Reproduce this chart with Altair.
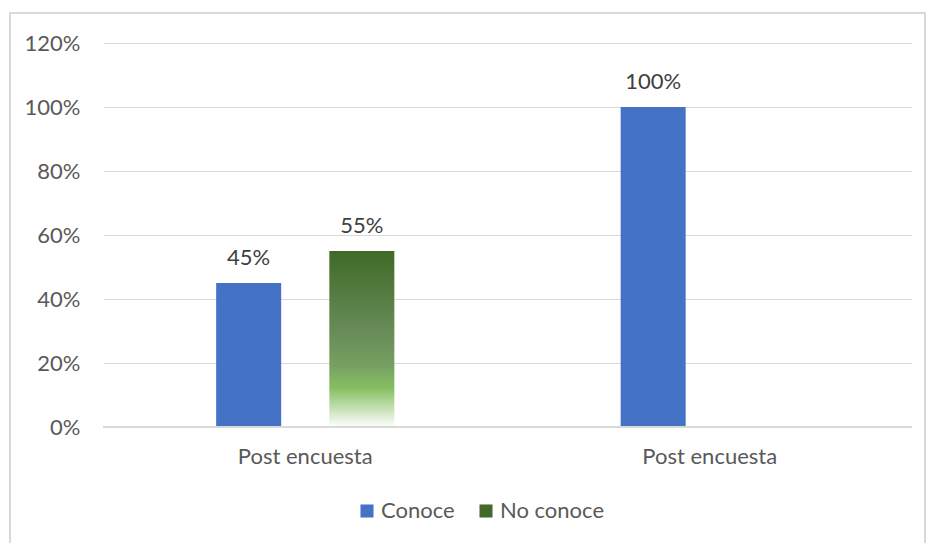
import altair as alt
import pandas as pd

# Data
groups = ["Post encuesta", "Post encuesta "]  # two groups share the same visible label
series = ["Conoce", "No conoce"]
conoce = [0.45, 1.00]
no_conoce = [0.55, 0.0]
y_ticks = [0, 0.2, 0.4, 0.6, 0.8, 1.0, 1.2]

rows = []
for g, c, n in zip(groups, conoce, no_conoce):
    rows.append({"grupo": g, "serie": series[0], "valor": c})
    rows.append({"grupo": g, "serie": series[1], "valor": n})
df = pd.DataFrame(rows)

BLUE = "#4472C4"
DARK_GREEN = "#43692C"
green_gradient = {
    "gradient": "linear",
    "x1": 0, "y1": 0, "x2": 0, "y2": 1,
    "stops": [
        {"offset": 0.0, "color": "#3F6A26"},
        {"offset": 0.45, "color": "#678B58"},
        {"offset": 0.65, "color": "#76A062"},
        {"offset": 0.78, "color": "#86BF62"},
        {"offset": 1.0, "color": "#FFFFFF"},
    ],
}

FONT = "Lato"
FS = 22

x_enc = alt.X(
    "grupo:N",
    sort=groups,
    scale=alt.Scale(paddingInner=0, paddingOuter=0),
    axis=alt.Axis(
        title=None, labelAngle=0, ticks=False, domain=False,
        labelFontSize=FS, labelColor="#595959", labelFont=FONT,
        labelPadding=19, grid=False,
    ),
)
xoff_enc = alt.XOffset(
    "serie:N", sort=series,
    scale=alt.Scale(domain=series, paddingInner=0.4256, paddingOuter=1),
)
y_enc = alt.Y(
    "valor:Q",
    scale=alt.Scale(domain=[0, 1.2]),
    axis=alt.Axis(
        title=None, values=y_ticks, format=".0%", ticks=False, domain=False,
        labelFontSize=FS, labelColor="#595959", labelFont=FONT, labelPadding=23,
        gridColor="#D9D9D9", gridWidth=1,
    ),
)

base = alt.Chart(df)

bars = base.mark_bar().encode(
    x=x_enc,
    xOffset=xoff_enc,
    y=y_enc,
    fill=alt.condition(
        "datum.serie == 'No conoce'",
        alt.value(green_gradient),
        alt.Fill(
            "serie:N",
            sort=series,
            scale=alt.Scale(domain=series, range=[BLUE, DARK_GREEN]),
            legend=alt.Legend(
                title=None, orient="none", direction="horizontal",
                legendX=253, legendY=457,
                symbolType="square", symbolSize=170, symbolStrokeWidth=0,
                labelFontSize=FS, labelColor="#595959", labelFont=FONT,
                columnPadding=20, labelOffset=3,
            ),
        ),
    ),
)

labels = base.transform_filter("datum.valor > 0").mark_text(
    baseline="alphabetic", dy=-18, fontSize=FS, color="#404040", font=FONT
).encode(
    x=x_enc,
    xOffset=xoff_enc,
    y=y_enc,
    text=alt.Text("valor:Q", format=".0%"),
)

baseline = base.mark_rule(color="#D9D9D9", strokeWidth=1.5).encode(
    x=alt.value(0), x2=alt.value(809), y=alt.value(384)
)

frame = base.mark_rect(fill=None, stroke="#D9D9D9", strokeWidth=1.5).encode(
    x=alt.value(-93), x2=alt.value(822), y=alt.value(-30), y2=alt.value(520)
)

chart = alt.layer(frame, bars, baseline, labels).properties(
    width=809, height=384,
    autosize=alt.AutoSizeParams(type="none"),
    padding={"left": 103, "top": 43, "right": 16, "bottom": 116},
    background="white",
).configure_view(stroke=None)

chart.save("out.html", embed_options={"renderer": "svg", "actions": False})
